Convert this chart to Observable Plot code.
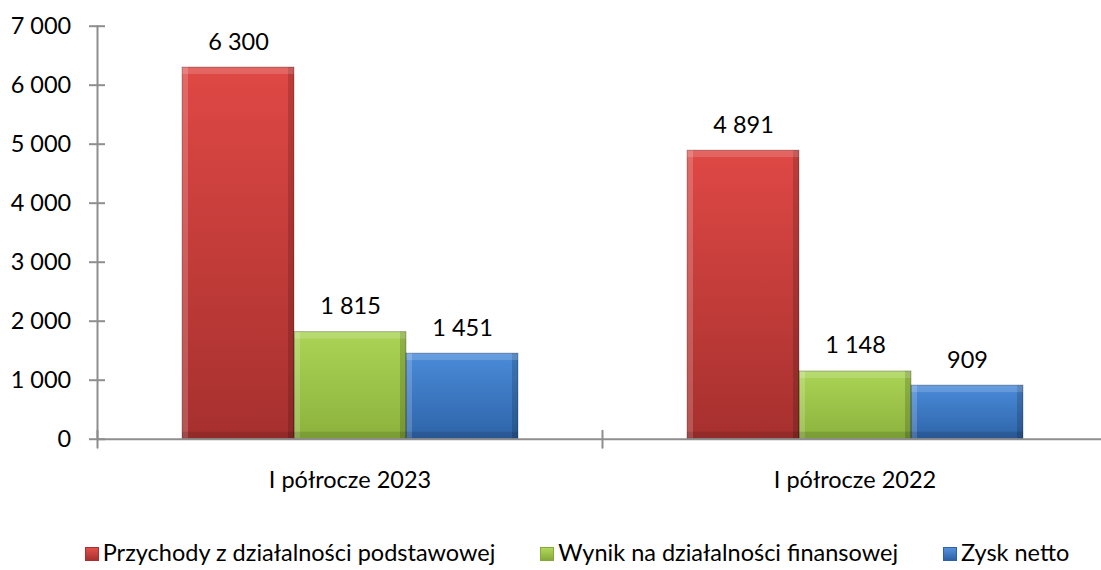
<!DOCTYPE html>
<html>
<head>
<meta charset="utf-8">
<script src="https://cdn.jsdelivr.net/npm/d3@7"></script>
<script src="https://cdn.jsdelivr.net/npm/@observablehq/plot@0.6"></script>
<style>
  html, body { margin: 0; padding: 0; background: #ffffff; }
  #chart { width: 1101px; height: 570px; position: relative; font-family: Lato, "Noto Sans", sans-serif; color: #000; }
  #chart svg { display: block; }
  .legend { display: flex; justify-content: center; align-items: baseline; gap: 45px; padding-left: 53px; padding-top: 21px; font-size: 23.5px; line-height: 1; }
  .legend .item { display: flex; align-items: baseline; white-space: nowrap; }
  .legend .sw { display: inline-block; width: 14px; height: 14px; margin-right: 4px; box-sizing: border-box; }
</style>
</head>
<body>
<div id="chart"></div>
<script>
// ---- data ----
const groups = ["I półrocze 2023", "I półrocze 2022"];
const series = ["Przychody z działalności podstawowej", "Wynik na działalności finansowej", "Zysk netto"];
const values2023 = [6300, 1815, 1451];
const values2022 = [4891, 1148, 909];
const yTicks = [0, 1000, 2000, 3000, 4000, 5000, 6000, 7000];
const gradientIds = ["gRed", "gGreen", "gBlue"];

const data = groups.flatMap((g, gi) =>
  series.map((s, si) => ({group: g, series: s, value: [values2023, values2022][gi][si]}))
);

const fmt = d3.formatLocale({decimal: ",", thousands: "\u00a0", grouping: [3], currency: ["", " zł"]}).format(",d");

const W = 1101, H = 520;
const axisColor = "#8e8e8e";
const fontFamily = "Lato, 'Noto Sans', sans-serif";
const fs = 23.5;

// gradient definitions (styling only)
const defsMark = () => {
  const g = document.createElementNS("http://www.w3.org/2000/svg", "g");
  g.innerHTML = `<defs>
    <linearGradient id="gRed" x1="0" y1="0" x2="0" y2="1">
      <stop offset="0" stop-color="#DF4845"/><stop offset="1" stop-color="#A6302E"/>
    </linearGradient>
    <linearGradient id="gGreen" x1="0" y1="0" x2="0" y2="1">
      <stop offset="0" stop-color="#ABD455"/><stop offset="1" stop-color="#8CB23D"/>
    </linearGradient>
    <linearGradient id="gBlue" x1="0" y1="0" x2="0" y2="1">
      <stop offset="0" stop-color="#4A8BD9"/><stop offset="1" stop-color="#2E64A8"/>
    </linearGradient>
    <linearGradient id="hBevel" x1="0" y1="0" x2="1" y2="0">
      <stop offset="0" stop-color="#fff" stop-opacity="0.18"/>
      <stop offset="0.055" stop-color="#fff" stop-opacity="0.18"/>
      <stop offset="0.055" stop-color="#fff" stop-opacity="0"/>
      <stop offset="0.945" stop-color="#000" stop-opacity="0"/>
      <stop offset="0.945" stop-color="#000" stop-opacity="0.16"/>
      <stop offset="1" stop-color="#000" stop-opacity="0.16"/>
    </linearGradient>
  </defs>`;
  return g;
};

const chart = Plot.plot({
  width: W,
  height: H,
  marginLeft: 97,
  marginRight: -6,
  marginTop: 25.7,
  marginBottom: H - 438.7,
  style: {fontFamily, fontSize: fs + "px", color: "#000", background: "#fff"},
  fx: {domain: groups, padding: 0, label: null},
  x: {domain: series, paddingInner: 0, paddingOuter: 0.74, axis: null},
  y: {domain: [0, 7000], axis: null},
  color: {domain: series, range: gradientIds.map(id => `url(#${id})`)},
  marks: [
    defsMark,
    // bars
    Plot.barY(data, {fx: "group", x: "series", y: "value", fill: "series"}),
    // bevel overlays
    Plot.barY(data, {fx: "group", x: "series", y: "value", fill: "url(#hBevel)"}),
    Plot.barY(data, {fx: "group", x: "series", y1: "value", y2: "value", insetBottom: -7, fill: "#fff", fillOpacity: 0.16}),
    Plot.barY(data, {fx: "group", x: "series", y1: 0, y2: 0, insetTop: -7, fill: "#000", fillOpacity: 0.12}),
    Plot.barY(data, {fx: "group", x: "series", y: "value", fill: "none", stroke: "#000", strokeOpacity: 0.25, strokeWidth: 1}),
    // axes
    Plot.ruleY([0], {stroke: axisColor, strokeWidth: 2}),
    Plot.frame({anchor: "left", facetAnchor: "left", stroke: axisColor, strokeWidth: 2}),
    Plot.axisY({ticks: yTicks, tickSize: 16, dx: 8, tickPadding: 18.3, tickFormat: fmt, stroke: axisColor, strokeWidth: 2, fill: "#000", fontSize: fs, label: null}),
    Plot.vector([0], {
      y: d => d, frameAnchor: "left", length: 17, anchor: "middle", rotate: 0,
      stroke: axisColor, strokeWidth: 2,
      shape: {draw(context, l) { context.moveTo(0, 0); context.lineTo(0, -l); }}
    }),
    Plot.axisFx({anchor: "bottom", tickSize: 0, tickPadding: 32, fontSize: fs, fill: "#000", label: null}),
    // value labels
    Plot.text(data, {fx: "group", x: "series", y: "value", text: d => fmt(d.value), dy: -18, lineAnchor: "bottom", fontSize: fs, fill: "#000"})
  ]
});

const root = document.getElementById("chart");
root.appendChild(chart);

// legend (below the SVG)
const legend = document.createElement("div");
legend.className = "legend";
const swatchGrad = [
  ["#E0504C", "#A8312F"],
  ["#B0D85C", "#86AA38"],
  ["#5592DC", "#2D62A6"]
];
series.forEach((s, i) => {
  const item = document.createElement("span");
  item.className = "item";
  const sw = document.createElement("span");
  sw.className = "sw";
  sw.style.background = `linear-gradient(to bottom, ${swatchGrad[i][0]}, ${swatchGrad[i][1]})`;
  sw.style.border = `1px solid ${swatchGrad[i][1]}`;
  const t = document.createElement("span");
  t.textContent = s;
  item.appendChild(sw);
  item.appendChild(t);
  legend.appendChild(item);
});
root.appendChild(legend);
</script>
</body>
</html>
